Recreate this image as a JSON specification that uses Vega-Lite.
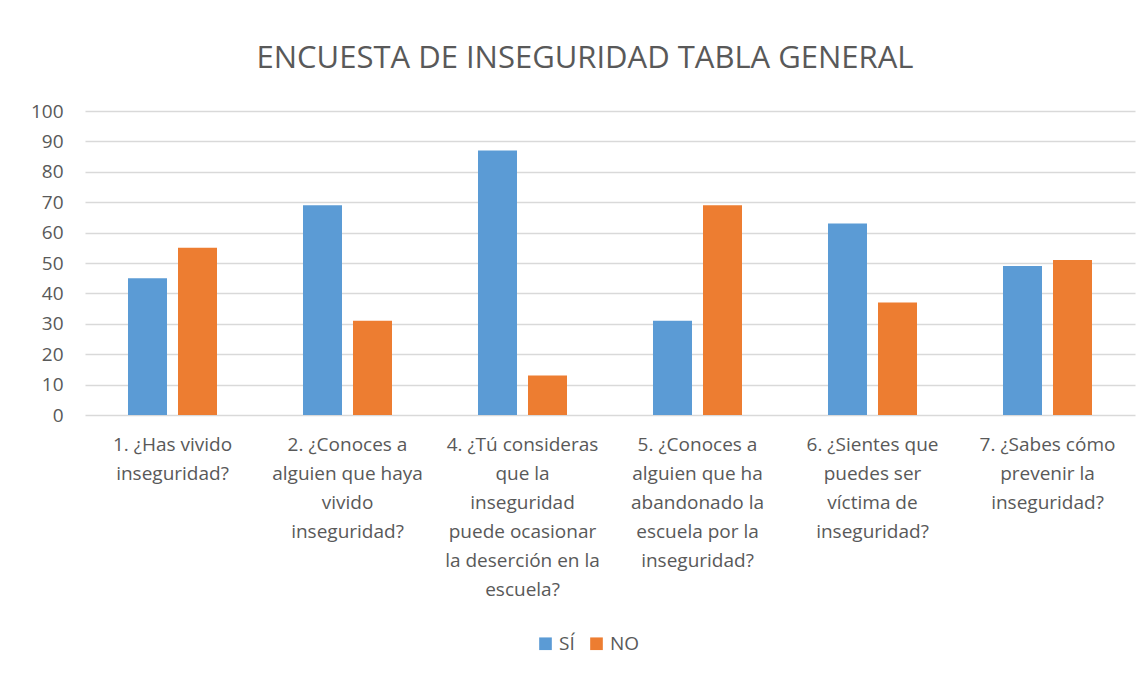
{
  "$schema": "https://vega.github.io/schema/vega-lite/v6.json",
  "width": 1050,
  "height": 304,
  "autosize": {"type": "none"},
  "padding": {"left": 85, "top": 111, "right": 13, "bottom": 261},
  "background": "white",
  "title": {
    "text": "ENCUESTA DE INSEGURIDAD TABLA GENERAL",
    "fontSize": 31,
    "font": "Open Sans",
    "fontWeight": "normal",
    "color": "#595959",
    "anchor": "middle",
    "dx": -25,
    "offset": 27
  },
  "data": {
    "values": [
      {"q": "1. ¿Has vivido|inseguridad?", "order": 1, "resp": "SÍ", "v": 45},
      {"q": "1. ¿Has vivido|inseguridad?", "order": 1, "resp": "NO", "v": 55},
      {"q": "2. ¿Conoces a|alguien que haya|vivido|inseguridad?", "order": 2, "resp": "SÍ", "v": 69},
      {"q": "2. ¿Conoces a|alguien que haya|vivido|inseguridad?", "order": 2, "resp": "NO", "v": 31},
      {"q": "4. ¿Tú consideras|que la|inseguridad|puede ocasionar|la deserción en la|escuela?", "order": 3, "resp": "SÍ", "v": 87},
      {"q": "4. ¿Tú consideras|que la|inseguridad|puede ocasionar|la deserción en la|escuela?", "order": 3, "resp": "NO", "v": 13},
      {"q": "5. ¿Conoces a|alguien que ha|abandonado la|escuela por la|inseguridad?", "order": 4, "resp": "SÍ", "v": 31},
      {"q": "5. ¿Conoces a|alguien que ha|abandonado la|escuela por la|inseguridad?", "order": 4, "resp": "NO", "v": 69},
      {"q": "6. ¿Sientes que|puedes ser|víctima de|inseguridad?", "order": 5, "resp": "SÍ", "v": 63},
      {"q": "6. ¿Sientes que|puedes ser|víctima de|inseguridad?", "order": 5, "resp": "NO", "v": 37},
      {"q": "7. ¿Sabes cómo|prevenir la|inseguridad?", "order": 6, "resp": "SÍ", "v": 49},
      {"q": "7. ¿Sabes cómo|prevenir la|inseguridad?", "order": 6, "resp": "NO", "v": 51}
    ]
  },
  "mark": {"type": "bar"},
  "encoding": {
    "x": {
      "field": "q",
      "type": "nominal",
      "sort": {"field": "order"},
      "scale": {"paddingInner": 0.4914, "paddingOuter": 0.2457},
      "axis": {
        "title": null,
        "labelAngle": 0,
        "labelExpr": "split(datum.label, '|')",
        "labelFont": "Open Sans",
        "labelFontSize": 19,
        "labelColor": "#595959",
        "labelLineHeight": 29,
        "labelPadding": 20,
        "labelLimit": 0,
        "domain": false,
        "ticks": false,
        "grid": false
      }
    },
    "xOffset": {
      "field": "resp",
      "type": "nominal",
      "sort": ["SÍ", "NO"],
      "scale": {"paddingInner": 0.22, "paddingOuter": 0}
    },
    "y": {
      "field": "v",
      "type": "quantitative",
      "scale": {"domain": [0, 100], "nice": false},
      "axis": {
        "title": null,
        "values": [0, 10, 20, 30, 40, 50, 60, 70, 80, 90, 100],
        "labelFont": "Open Sans",
        "labelFontSize": 19,
        "labelColor": "#595959",
        "labelPadding": 22,
        "domain": false,
        "ticks": false,
        "gridColor": "#d9d9d9",
        "gridWidth": 1.3
      }
    },
    "color": {
      "field": "resp",
      "type": "nominal",
      "sort": ["SÍ", "NO"],
      "scale": {"domain": ["SÍ", "NO"], "range": ["#5B9BD5", "#ED7D31"]},
      "legend": {
        "title": null,
        "orient": "none",
        "direction": "horizontal",
        "legendX": 451,
        "legendY": 523,
        "symbolType": "square",
        "symbolSize": 160,
        "symbolStrokeWidth": 0,
        "labelFont": "Open Sans",
        "labelFontSize": 19,
        "labelColor": "#595959",
        "columnPadding": 12,
        "labelOffset": 4
      }
    }
  },
  "config": {"view": {"stroke": null}}
}
